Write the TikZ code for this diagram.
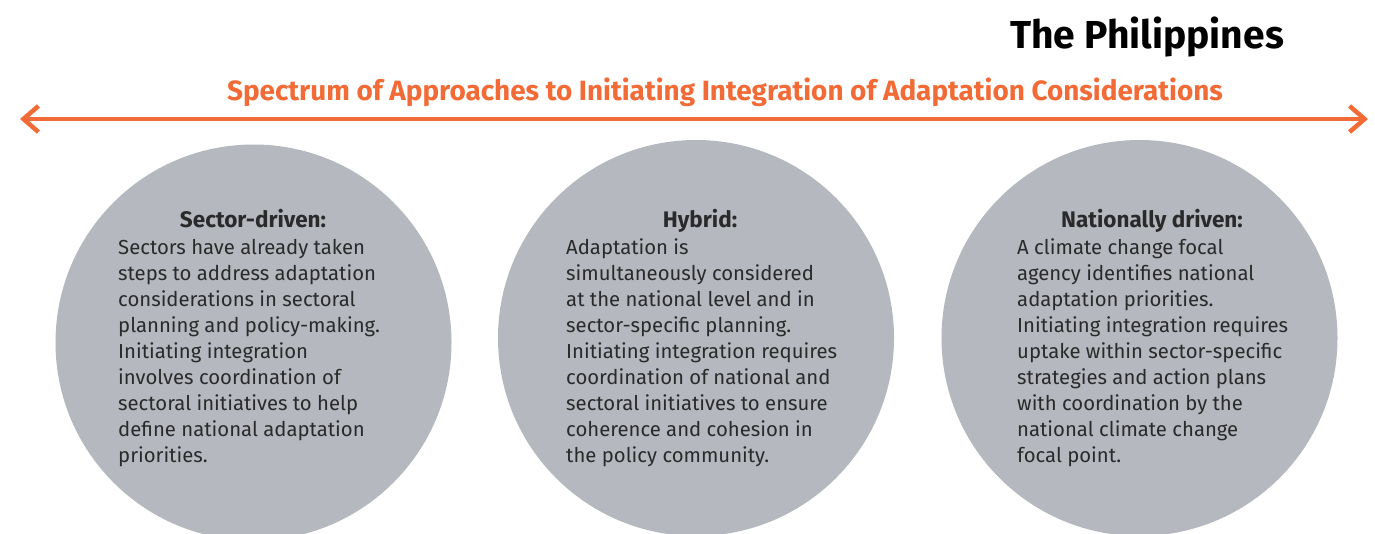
\documentclass[tikz,border=0pt]{standalone}
\usepackage{fontspec}
\setmainfont{Fira Sans}
\usetikzlibrary{arrows.meta}
\definecolor{circgray}{HTML}{B5B8BF}
\definecolor{orng}{HTML}{F26A36}
\definecolor{txt}{HTML}{2A2A2A}
\tikzset{
  bubble/.style={circle, fill=circgray, minimum size=396pt, inner sep=0pt},
  bubbletitle/.style={anchor=base, inner sep=0pt, text=txt, font=\bfseries\fontsize{22.5}{26}\selectfont},
  bubblebody/.style={anchor=base west, inner sep=0pt, align=left, text=txt, font=\fontsize{20.3}{26.1}\selectfont},
  spectrum/.style={draw=orng, line width=4.5pt, {Straight Barb[length=15pt,width=26pt]}-{Straight Barb[length=15pt,width=26pt]}}
}
\begin{document}
\begin{tikzpicture}[x=1pt,y=-1pt]
\useasboundingbox (0,0) rectangle (1375,533);
\fill[white] (0,0) rectangle (1375,533);
\clip (0,0) rectangle (1375,533);

\node[anchor=base east, inner sep=0pt, text=black, font=\bfseries\fontsize{39}{39}\selectfont] (country) at (1284,48) {The Philippines};
\node[anchor=base, inner sep=0pt, text=orng, font=\bfseries\fontsize{27.9}{27.9}\selectfont] (heading) at (725,100) {Spectrum of Approaches to Initiating Integration of Adaptation Considerations};

\coordinate (la) at (20,119);
\coordinate (ra) at (1368,119);
\draw[spectrum] (la) -- (ra);

\node[bubble] (c1) at (253.5,342.5) {};
\node[bubble] (c2) at (696,338) {};
\node[bubble] (c3) at (1139.5,338) {};

\node[bubbletitle] (t1) at (253,227) {Sector-driven:};
\node[bubblebody] (b1) at (118,462.8) {Sectors have already taken\\steps to address adaptation\\considerations in sectoral\\planning and policy-making.\\Initiating integration\\involves coordination of\\sectoral initiatives to help\\define national adaptation\\priorities.};

\node[bubbletitle] (t2) at (700,227) {Hybrid:};
\node[bubblebody] (b2) at (566,462.8) {Adaptation is\\simultaneously considered\\at the national level and in\\sector-specific planning.\\Initiating integration requires\\coordination of national and\\sectoral initiatives to ensure\\coherence and cohesion in\\the policy community.};

\node[bubbletitle] (t3) at (1152,227) {Nationally driven:};
\node[bubblebody] (b3) at (1017,462.8) {A climate change focal\\agency identifies national\\adaptation priorities.\\Initiating integration requires\\uptake within sector-specific\\strategies and action plans\\with coordination by the\\national climate change\\focal point.};
\end{tikzpicture}
\end{document}
